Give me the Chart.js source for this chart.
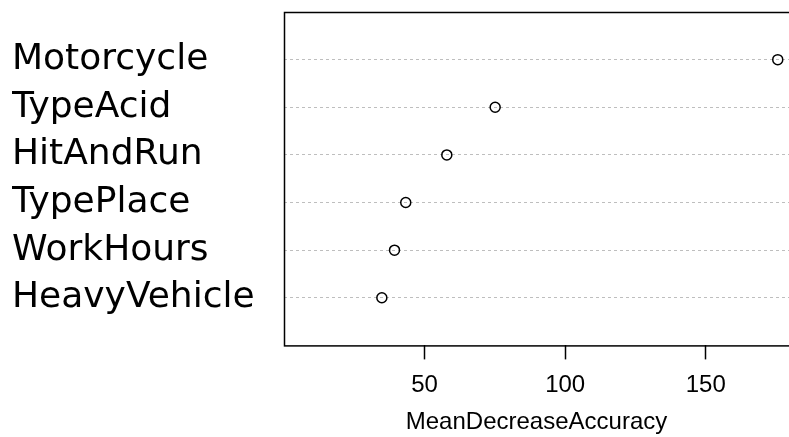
<!DOCTYPE html>
<html>
<head>
<meta charset="utf-8">
<script src="https://cdn.jsdelivr.net/npm/chart.js@4"></script>
<style>
  html, body { margin: 0; padding: 0; background: #fff; overflow: hidden; }
  #wrap { width: 789px; height: 437px; }
</style>
</head>
<body>
<div id="wrap"><canvas id="myChart"></canvas></div>
<script>
// top to bottom, as in the picture
const variables = ['Motorcycle', 'TypeAcid', 'HitAndRun', 'TypePlace', 'WorkHours', 'HeavyVehicle'];
const meanDecreaseAccuracy = [175.6, 75.1, 57.9, 43.3, 39.3, 34.8];
const xTicks = [50, 100, 150];

const points = variables.map((v, i) => ({ x: meanDecreaseAccuracy[i], y: variables.length - i }));

// frame around the plot (right side runs off the canvas like the original)
const frame = {
  id: 'frame',
  afterDraw(chart) {
    const a = chart.chartArea;
    const ctx = chart.ctx;
    ctx.save();
    ctx.strokeStyle = '#000';
    ctx.lineWidth = 1.5;
    ctx.strokeRect(a.left + 0.5, a.top + 0.5, a.right - a.left + 20, a.bottom - a.top);
    ctx.restore();
  }
};

const ctx = document.getElementById('myChart');

new Chart(ctx, {
  type: 'scatter',
  data: {
    datasets: [{
      data: points,
      pointRadius: 5,
      pointHoverRadius: 5,
      borderColor: '#000',
      backgroundColor: 'rgba(0,0,0,0)',
      borderWidth: 1.5
    }]
  },
  options: {
    responsive: true,
    maintainAspectRatio: false,
    animation: false,
    layout: { autoPadding: false, padding: { left: 12, top: 12, right: 0, bottom: 0 } },
    plugins: { legend: { display: false }, tooltip: { enabled: false } },
    scales: {
      x: {
        min: 0,
        max: 179.6,
        afterBuildTicks: s => { s.ticks = xTicks.map(v => ({ value: v })); },
        grid: { drawOnChartArea: false, drawTicks: true, tickLength: 14, color: '#000', tickWidth: 1.5 },
        border: { display: false },
        ticks: { color: '#000', font: { family: 'Liberation Sans', size: 24 }, padding: 12, maxRotation: 0 },
        title: {
          display: true,
          text: 'MeanDecreaseAccuracy',
          color: '#000',
          font: { family: 'Liberation Sans', size: 24 },
          padding: { top: -4, bottom: 0 }
        }
      },
      y: {
        min: 0,
        max: 7,
        afterBuildTicks: s => { s.ticks = variables.map((v, i) => ({ value: i + 1 })); },
        afterFit: s => { s.width = 272; s.paddingTop = 0; s.paddingBottom = 0; },
        grid: { drawTicks: false, color: '#bebebe', lineWidth: 1 },
        border: { display: false, dash: [3, 3] },
        ticks: {
          color: '#000',
          crossAlign: 'far',
          padding: 0,
          font: { family: 'DejaVu Sans', size: 36 },
          callback: v => variables[variables.length - v]
        }
      }
    }
  },
  plugins: [frame]
});
</script>
</body>
</html>
